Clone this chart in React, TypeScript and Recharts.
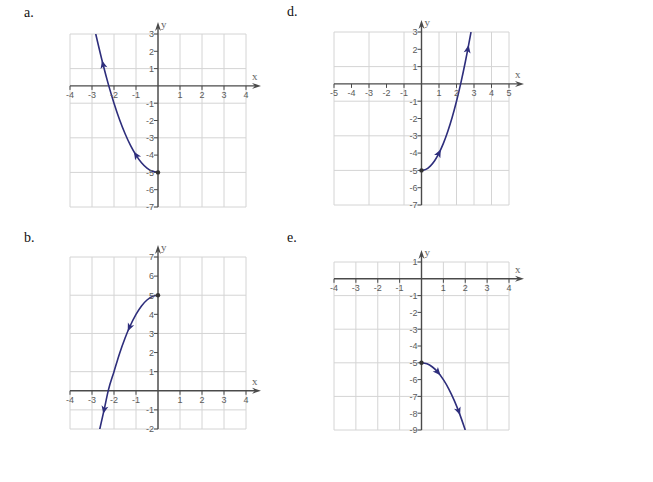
import { CartesianGrid, Line, LineChart, ReferenceDot, ReferenceLine, XAxis, YAxis } from "recharts"

// curve points (x, y), ordered by increasing x
const aXs = [-2.83, -2.5, -2.25, -2, -1.75, -1.5, -1.25, -1, -0.75, -0.5, -0.25, 0]
const aYs = [3, 1.25, 0.06, -1, -1.94, -2.75, -3.44, -4, -4.44, -4.75, -4.94, -5]
const aArrows = [1, 7]

const bXs = [-2.65, -2.45, -2.25, -2, -1.75, -1.5, -1.3, -1, -0.75, -0.5, -0.25, 0]
const bYs = [-2.02, -1, 0.06, 1, 1.94, 2.75, 3.31, 4, 4.44, 4.75, 4.94, 5]
const bArrows = [1, 6]

const dXs = [0, 0.25, 0.5, 0.75, 1, 1.25, 1.5, 1.75, 2, 2.25, 2.5, 2.65, 2.83]
const dYs = [-5, -4.94, -4.75, -4.44, -4, -3.44, -2.75, -1.94, -1, 0.06, 1.25, 2.02, 3]
const dArrows = [4, 11]

const eXs = [0, 0.25, 0.5, 0.75, 1, 1.25, 1.5, 1.7, 2]
const eYs = [-5, -5.06, -5.25, -5.56, -6, -6.56, -7.25, -7.89, -9]
const eArrows = [3, 7]

// tick labels
const ticks4 = [-4, -3, -2, -1, 0, 1, 2, 3, 4]
const ticks5 = [-5, -4, -3, -2, -1, 0, 1, 2, 3, 4, 5]
const yTicksA = [-7, -6, -5, -4, -3, -2, -1, 0, 1, 2, 3]
const yTicksB = [-2, -1, 0, 1, 2, 3, 4, 5, 6, 7]
const yTicksE = [-9, -8, -7, -6, -5, -4, -3, -2, -1, 0, 1]

const GRID = "#d4d4d4"
const AXIS = "#4a4a4a"
const CURVE = "#2e2e7c"
const LABEL = "#5a5a5a"

const M = { top: 22, right: 26, bottom: 14, left: 22 }

interface PanelDef {
  name: string
  labelLeft: number
  labelTop: number
  left: number
  top: number
  w: number
  h: number
  xs: number[]
  ys: number[]
  arrows: number[]
  dir: number
  xTicks: number[]
  yTicks: number[]
}

const panels: PanelDef[] = [
  { name: "a.", labelLeft: 24, labelTop: 5, left: 70, top: 34, w: 176, h: 173, xs: aXs, ys: aYs, arrows: aArrows, dir: -1, xTicks: ticks4, yTicks: yTicksA },
  { name: "d.", labelLeft: 287, labelTop: 4, left: 334, top: 32, w: 175, h: 173, xs: dXs, ys: dYs, arrows: dArrows, dir: 1, xTicks: ticks5, yTicks: yTicksA },
  { name: "b.", labelLeft: 24, labelTop: 230, left: 70, top: 257, w: 176, h: 172, xs: bXs, ys: bYs, arrows: bArrows, dir: -1, xTicks: ticks4, yTicks: yTicksB },
  { name: "e.", labelLeft: 287, labelTop: 230, left: 334, top: 262, w: 175, h: 168, xs: eXs, ys: eYs, arrows: eArrows, dir: 1, xTicks: ticks4, yTicks: yTicksE },
]

function ArrowAxis(props: any) {
  const { x1, y1, x2, y2, letter, vertical } = props
  if (x1 == null || x2 == null) return <g />
  const len = Math.hypot(x2 - x1, y2 - y1) || 1
  const ux = (x2 - x1) / len
  const uy = (y2 - y1) / len
  const bx = x2 - ux * 9
  const by = y2 - uy * 9
  const head = `${x2},${y2} ${bx - uy * 3},${by + ux * 3} ${x2 - ux * 6},${y2 - uy * 6} ${bx + uy * 3},${by - ux * 3}`
  return (
    <g>
      <line x1={x1} y1={y1} x2={x2 - ux * 5} y2={y2 - uy * 5} stroke={AXIS} strokeWidth={1.4} />
      <polygon points={head} fill={AXIS} />
      <text
        x={vertical ? x2 + 3 : x2 - 9}
        y={vertical ? y2 + 6 : y2 - 6}
        fontFamily="'Liberation Serif', serif"
        fontSize={11}
        fill="#666"
      >
        {letter}
      </text>
    </g>
  )
}

function XTick({ cx, cy, value }: { cx?: number; cy?: number; value: number }) {
  if (cx == null || cy == null) return <g />
  return (
    <g>
      <line x1={cx} y1={cy} x2={cx} y2={cy + 4} stroke={AXIS} strokeWidth={1} />
      <text x={cx} y={cy + 12} textAnchor="middle" fontFamily="'Liberation Sans', Arial, sans-serif" fontSize={9} fill={LABEL}>
        {value}
      </text>
    </g>
  )
}

function YTick({ cx, cy, value }: { cx?: number; cy?: number; value: number }) {
  if (cx == null || cy == null) return <g />
  return (
    <g>
      <line x1={cx - 4} y1={cy} x2={cx} y2={cy} stroke={AXIS} strokeWidth={1} />
      <text x={cx - 4} y={cy + 3.3} textAnchor="end" fontFamily="'Liberation Sans', Arial, sans-serif" fontSize={9} fill={LABEL}>
        {value}
      </text>
    </g>
  )
}

function CurveDot(props: any) {
  const { cx, cy, index, payload, points, dir } = props
  if (cx == null || cy == null) return <g key={index} />
  if (payload.vertex) {
    return <circle key={index} cx={cx} cy={cy} r={2.2} fill="#333" />
  }
  if (!payload.arrow || !points) return <g key={index} />
  const prev = points[Math.max(index - 1, 0)]
  const next = points[Math.min(index + 1, points.length - 1)]
  let dx = (next.x - prev.x) * dir
  let dy = (next.y - prev.y) * dir
  const len = Math.hypot(dx, dy) || 1
  dx /= len
  dy /= len
  const tx = cx + dx * 4
  const ty = cy + dy * 4
  const bx = cx - dx * 4
  const by = cy - dy * 4
  const head = `${tx},${ty} ${bx - dy * 3.5},${by + dx * 3.5} ${cx - dx * 2},${cy - dy * 2} ${bx + dy * 3.5},${by - dx * 3.5}`
  return <polygon key={index} points={head} fill={CURVE} />
}

function Panel({ p }: { p: PanelDef }) {
  const data = p.xs.map((x, i) => ({
    x,
    y: p.ys[i],
    arrow: p.arrows.includes(i),
    vertex: x === 0,
  }))
  const xMin = p.xTicks[0]
  const xMax = p.xTicks[p.xTicks.length - 1]
  const yMin = p.yTicks[0]
  const yMax = p.yTicks[p.yTicks.length - 1]
  const xUnit = (xMax - xMin) / p.w
  const yUnit = (yMax - yMin) / p.h
  return (
    <div style={{ position: "absolute", left: p.left - M.left, top: p.top - M.top }}>
      <LineChart width={p.w + M.left + M.right} height={p.h + M.top + M.bottom} data={data} margin={M} style={{ overflow: "visible" }}>
        <CartesianGrid stroke={GRID} strokeWidth={1} />
        <XAxis type="number" dataKey="x" domain={[xMin, xMax]} ticks={p.xTicks} hide allowDataOverflow />
        <YAxis type="number" domain={[yMin, yMax]} ticks={p.yTicks} hide allowDataOverflow />
        <ReferenceLine
          segment={[{ x: xMin, y: 0 }, { x: xMax + 15 * xUnit, y: 0 }]}
          ifOverflow="visible"
          shape={(sp: any) => <ArrowAxis {...sp} letter="x" />}
        />
        <ReferenceLine
          segment={[{ x: 0, y: yMin }, { x: 0, y: yMax + 12 * yUnit }]}
          ifOverflow="visible"
          shape={(sp: any) => <ArrowAxis {...sp} letter="y" vertical />}
        />
        {p.xTicks
          .filter((t) => t !== 0)
          .map((t) => (
            <ReferenceDot
              key={`x${t}`}
              x={t}
              y={0}
              r={0}
              ifOverflow="visible"
              shape={(sp: any) => <XTick cx={sp.cx} cy={sp.cy} value={t} />}
            />
          ))}
        {p.yTicks
          .filter((t) => t !== 0)
          .map((t) => (
            <ReferenceDot
              key={`y${t}`}
              x={0}
              y={t}
              r={0}
              ifOverflow="visible"
              shape={(sp: any) => <YTick cx={sp.cx} cy={sp.cy} value={t} />}
            />
          ))}
        <Line
          type="monotone"
          dataKey="y"
          stroke={CURVE}
          strokeWidth={1.6}
          isAnimationActive={false}
          activeDot={false}
          dot={(dp: any) => <CurveDot key={dp.index} {...dp} dir={p.dir} />}
        />
      </LineChart>
    </div>
  )
}

export default function App() {
  return (
    <div style={{ position: "absolute", left: 0, top: 0, width: 653, height: 482, background: "#fff" }}>
      {panels.map((p) => (
        <div key={p.name}>
          <div
            style={{
              position: "absolute",
              left: p.labelLeft,
              top: p.labelTop,
              fontFamily: "'Liberation Serif', 'Times New Roman', serif",
              fontSize: 14,
              color: "#111",
            }}
          >
            {p.name}
          </div>
          <Panel p={p} />
        </div>
      ))}
    </div>
  )
}
